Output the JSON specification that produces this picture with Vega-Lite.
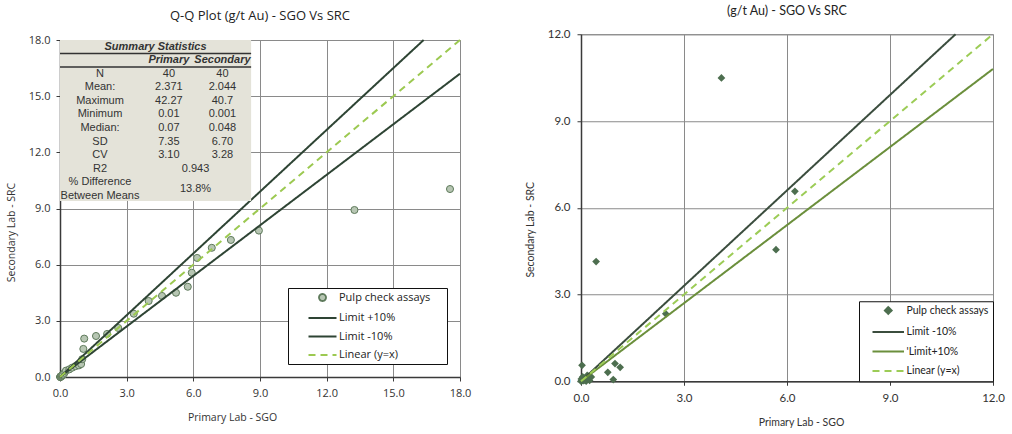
{
  "$schema": "https://vega.github.io/schema/vega-lite/v6.json",
  "background": "white",
  "padding": {"left": 5, "top": 4, "right": 5, "bottom": 5},
  "datasets": {
    "qq": [
      {"primary": 0.01, "secondary": 0.001}, {"primary": 0.01, "secondary": 0.005},
      {"primary": 0.02, "secondary": 0.01}, {"primary": 0.02, "secondary": 0.012},
      {"primary": 0.03, "secondary": 0.02}, {"primary": 0.03, "secondary": 0.022},
      {"primary": 0.04, "secondary": 0.025}, {"primary": 0.04, "secondary": 0.03},
      {"primary": 0.05, "secondary": 0.03}, {"primary": 0.05, "secondary": 0.04},
      {"primary": 0.06, "secondary": 0.04}, {"primary": 0.06, "secondary": 0.045},
      {"primary": 0.07, "secondary": 0.048}, {"primary": 0.08, "secondary": 0.06},
      {"primary": 0.1, "secondary": 0.09}, {"primary": 0.14, "secondary": 0.13},
      {"primary": 0.2, "secondary": 0.22}, {"primary": 0.27, "secondary": 0.34},
      {"primary": 0.42, "secondary": 0.41}, {"primary": 0.55, "secondary": 0.5},
      {"primary": 0.7, "secondary": 0.58}, {"primary": 0.85, "secondary": 0.62},
      {"primary": 0.95, "secondary": 0.69}, {"primary": 1.0, "secondary": 0.95},
      {"primary": 1.05, "secondary": 1.5}, {"primary": 1.09, "secondary": 2.05},
      {"primary": 1.62, "secondary": 2.19}, {"primary": 2.12, "secondary": 2.3},
      {"primary": 2.62, "secondary": 2.62}, {"primary": 3.32, "secondary": 3.38},
      {"primary": 3.99, "secondary": 4.06}, {"primary": 4.59, "secondary": 4.33},
      {"primary": 5.22, "secondary": 4.5}, {"primary": 5.75, "secondary": 4.82},
      {"primary": 5.93, "secondary": 5.57}, {"primary": 6.17, "secondary": 6.36},
      {"primary": 6.83, "secondary": 6.9}, {"primary": 7.69, "secondary": 7.32},
      {"primary": 8.95, "secondary": 7.82}, {"primary": 13.25, "secondary": 8.92},
      {"primary": 17.55, "secondary": 10.04}
    ],
    "qqLines": [
      {"series": "Limit +10%", "x": 0, "y": 0}, {"series": "Limit +10%", "x": 16.3636, "y": 18},
      {"series": "Limit -10%", "x": 0, "y": 0}, {"series": "Limit -10%", "x": 18, "y": 16.2},
      {"series": "Linear (y=x)", "x": 0, "y": 0}, {"series": "Linear (y=x)", "x": 18, "y": 18}
    ],
    "stats": [
      {"row": 2, "label": "N", "primary": "40", "secondary": "40"},
      {"row": 3, "label": "Mean:", "primary": "2.371", "secondary": "2.044"},
      {"row": 4, "label": "Maximum", "primary": "42.27", "secondary": "40.7"},
      {"row": 5, "label": "Minimum", "primary": "0.01", "secondary": "0.001"},
      {"row": 6, "label": "Median:", "primary": "0.07", "secondary": "0.048"},
      {"row": 7, "label": "SD", "primary": "7.35", "secondary": "6.70"},
      {"row": 8, "label": "CV", "primary": "3.10", "secondary": "3.28"},
      {"row": 9, "label": "R2", "merged": "0.943"},
      {"row": 10, "label": "% Difference"},
      {"row": 11, "label": "Between Means"},
      {"row": 10.5, "merged": "13.8%"}
    ],
    "pairs": [
      {"primary": 4.09, "secondary": 10.49}, {"primary": 0.44, "secondary": 4.14},
      {"primary": 2.47, "secondary": 2.33}, {"primary": 6.23, "secondary": 6.57},
      {"primary": 5.68, "secondary": 4.55}, {"primary": 0.03, "secondary": 0.55},
      {"primary": 0.78, "secondary": 0.31}, {"primary": 0.99, "secondary": 0.61},
      {"primary": 1.14, "secondary": 0.48}, {"primary": 0.94, "secondary": 0.06},
      {"primary": 0.0, "secondary": 0.0}, {"primary": 0.02, "secondary": 0.01},
      {"primary": 0.05, "secondary": 0.03}, {"primary": 0.08, "secondary": 0.02},
      {"primary": 0.1, "secondary": 0.1}, {"primary": 0.12, "secondary": 0.05},
      {"primary": 0.15, "secondary": 0.0}, {"primary": 0.2, "secondary": 0.08},
      {"primary": 0.25, "secondary": 0.03}, {"primary": 0.3, "secondary": 0.15},
      {"primary": 0.05, "secondary": 0.15}, {"primary": 0.18, "secondary": 0.2},
      {"primary": 0.01, "secondary": 0.08}, {"primary": 0.22, "secondary": 0.12},
      {"primary": 0.21, "secondary": 0.17}
    ],
    "pairLines": [
      {"series": "Limit -10%", "x": 0, "y": 0}, {"series": "Limit -10%", "x": 10.909, "y": 12},
      {"series": "'Limit+10%", "x": 0, "y": 0}, {"series": "'Limit+10%", "x": 12, "y": 10.8},
      {"series": "Linear (y=x)", "x": 0, "y": 0}, {"series": "Linear (y=x)", "x": 12, "y": 12}
    ]
  },
  "concat": [
    {
      "width": 400,
      "height": 337,
      "title": {"text": "Q-Q Plot (g/t Au) - SGO Vs SRC", "font": "Open Sans", "fontSize": 13, "fontWeight": "normal", "color": "#222", "offset": 11},
      "layer": [
        {
          "layer": [
            {
              "data": {"name": "qq"},
              "mark": {"type": "point", "filled": true, "fill": "#b7c6b3", "size": 50, "strokeWidth": 1, "opacity": 1},
              "encoding": {
                "x": {"field": "primary", "type": "quantitative", "scale": {"domain": [0, 18], "nice": false, "zero": false}},
                "y": {"field": "secondary", "type": "quantitative", "scale": {"domain": [0, 18], "nice": false, "zero": false}},
                "stroke": {"datum": "Pulp check assays", "type": "nominal"},
                "shape": {"datum": "Pulp check assays", "type": "nominal",
                  "scale": {"domain": ["Pulp check assays", "Limit +10%", "Limit -10%", "Linear (y=x)"], "range": ["circle", "M-4,0H4", "M-4,0H4", "M-4,0H4"]},
                  "legend": {"title": "\u00a0", "titleOrient": "right", "titlePadding": 13}}
              }
            },
            {
              "data": {"name": "qqLines"},
              "mark": {"type": "line", "strokeWidth": 2},
              "encoding": {
                "x": {"field": "x", "type": "quantitative",
                  "scale": {"domain": [0, 18], "nice": false, "zero": false},
                  "axis": {"values": [0, 3, 6, 9, 12, 15, 18], "format": ".1f", "title": "Primary Lab - SGO",
                    "labelFont": "Open Sans", "labelFontSize": 11, "labelPadding": 6,
                    "titleFont": "Open Sans", "titleFontSize": 10.5, "titlePadding": 14, "titleX": 172}},
                "y": {"field": "y", "type": "quantitative",
                  "scale": {"domain": [0, 18], "nice": false, "zero": false},
                  "axis": {"values": [0, 3, 6, 9, 12, 15, 18], "format": ".1f", "title": "Secondary Lab - SRC",
                    "labelFont": "Open Sans", "labelFontSize": 11, "labelPadding": 6,
                    "titleFont": "Open Sans", "titleFontSize": 10.5, "titlePadding": 12, "titleY": 192}},
                "stroke": {"field": "series", "type": "nominal",
                  "scale": {"domain": ["Pulp check assays", "Limit +10%", "Limit -10%", "Linear (y=x)"], "range": ["#5e7a5b", "#2e4434", "#2e4434", "#9cc951"]},
                  "legend": {"title": "\u00a0", "titleOrient": "right", "titlePadding": 13}},
                "strokeDash": {"field": "series", "type": "nominal",
                  "scale": {"domain": ["Pulp check assays", "Limit +10%", "Limit -10%", "Linear (y=x)"], "range": [[1, 0], [1, 0], [1, 0], [7, 5]]},
                  "legend": {"title": "\u00a0", "titleOrient": "right", "titlePadding": 13}}
              }
            }
          ]
        },
        {
          "layer": [
            {
              "data": {"values": [{}]},
              "mark": {"type": "rect", "fill": "#e4e3d9"},
              "encoding": {
                "x": {"datum": 0, "type": "quantitative"},
                "x2": {"datum": 8.6},
                "y": {"datum": -0.5, "type": "quantitative",
                  "scale": {"domain": [-0.5, 24.4], "reverse": true, "nice": false, "zero": false}, "axis": null},
                "y2": {"datum": 11.4}
              }
            },
            {
              "data": {"values": [{"row": 0.5}, {"row": 1.5}]},
              "mark": {"type": "rule", "stroke": "#333", "strokeWidth": 1.5},
              "encoding": {
                "x": {"datum": 0, "type": "quantitative"},
                "x2": {"datum": 8.6},
                "y": {"field": "row", "type": "quantitative"}
              }
            },
            {
              "data": {"values": [{"row": 0, "text": "Summary Statistics"}]},
              "mark": {"type": "text", "font": "Liberation Sans", "fontSize": 11, "fontWeight": "bold", "fontStyle": "italic", "color": "#333"},
              "encoding": {
                "x": {"datum": 4.3, "type": "quantitative"},
                "y": {"field": "row", "type": "quantitative"},
                "text": {"field": "text"}
              }
            },
            {
              "data": {"values": [{"row": 1, "text": "Primary", "col": 4.9}, {"row": 1, "text": "Secondary", "col": 7.31}]},
              "mark": {"type": "text", "font": "Liberation Sans", "fontSize": 11, "fontWeight": "bold", "fontStyle": "italic", "color": "#333"},
              "encoding": {
                "x": {"field": "col", "type": "quantitative"},
                "y": {"field": "row", "type": "quantitative"},
                "text": {"field": "text"}
              }
            },
            {
              "data": {"name": "stats"},
              "transform": [{"filter": "isValid(datum.label)"}],
              "mark": {"type": "text", "font": "Liberation Sans", "fontSize": 11, "color": "#333"},
              "encoding": {
                "x": {"datum": 1.8, "type": "quantitative"},
                "y": {"field": "row", "type": "quantitative"},
                "text": {"field": "label"}
              }
            },
            {
              "data": {"name": "stats"},
              "transform": [{"filter": "isValid(datum.primary)"}],
              "mark": {"type": "text", "font": "Liberation Sans", "fontSize": 11, "color": "#333"},
              "encoding": {
                "x": {"datum": 4.9, "type": "quantitative"},
                "y": {"field": "row", "type": "quantitative"},
                "text": {"field": "primary"}
              }
            },
            {
              "data": {"name": "stats"},
              "transform": [{"filter": "isValid(datum.secondary)"}],
              "mark": {"type": "text", "font": "Liberation Sans", "fontSize": 11, "color": "#333"},
              "encoding": {
                "x": {"datum": 7.31, "type": "quantitative"},
                "y": {"field": "row", "type": "quantitative"},
                "text": {"field": "secondary"}
              }
            },
            {
              "data": {"name": "stats"},
              "transform": [{"filter": "isValid(datum.merged)"}],
              "mark": {"type": "text", "font": "Liberation Sans", "fontSize": 11, "color": "#333"},
              "encoding": {
                "x": {"datum": 6.1, "type": "quantitative"},
                "y": {"field": "row", "type": "quantitative"},
                "text": {"field": "merged"}
              }
            }
          ]
        }
      ],
      "resolve": {"scale": {"y": "independent"}}
    },
    {
      "width": 412,
      "height": 347,
      "title": {"text": "(g/t Au) - SGO Vs SRC", "font": "Lato", "fontSize": 12.5, "fontWeight": "normal", "color": "#222", "offset": 11},
      "layer": [
        {
          "data": {"name": "pairs"},
          "mark": {"type": "point", "filled": true, "fill": "#4d6e4f", "size": 60, "strokeWidth": 0, "opacity": 1},
          "encoding": {
            "x": {"field": "primary", "type": "quantitative", "scale": {"domain": [0, 12], "nice": false, "zero": false}},
            "y": {"field": "secondary", "type": "quantitative", "scale": {"domain": [0, 12], "nice": false, "zero": false}},
            "stroke": {"datum": "Pulp check assays", "type": "nominal"},
            "shape": {"datum": "Pulp check assays", "type": "nominal",
              "scale": {"domain": ["Pulp check assays", "Limit -10%", "'Limit+10%", "Linear (y=x)"], "range": ["diamond", "M-4.5,0H4.5", "M-4.5,0H4.5", "M-4.5,0H4.5"]},
              "legend": {"title": null, "offset": 0, "labelFont": "Lato", "labelFontSize": 10.5, "symbolOffset": 20, "labelOffset": 13, "rowPadding": 8.5}}
          }
        },
        {
          "data": {"name": "pairLines"},
          "mark": {"type": "line", "strokeWidth": 2},
          "encoding": {
            "x": {"field": "x", "type": "quantitative",
              "scale": {"domain": [0, 12], "nice": false, "zero": false},
              "axis": {"values": [0, 3, 6, 9, 12], "format": ".1f", "title": "Primary Lab - SGO",
                "labelFont": "Lato", "labelFontSize": 11.5, "labelPadding": 7,
                "titleFont": "Lato", "titleFontSize": 10.5, "titlePadding": 14, "titleX": 220}},
            "y": {"field": "y", "type": "quantitative",
              "scale": {"domain": [0, 12], "nice": false, "zero": false},
              "axis": {"values": [0, 3, 6, 9, 12], "format": ".1f", "title": "Secondary Lab - SRC",
                "labelFont": "Lato", "labelFontSize": 11.5, "labelPadding": 7,
                "titleFont": "Lato", "titleFontSize": 10.5, "titlePadding": 12, "titleY": 195}},
            "stroke": {"field": "series", "type": "nominal",
              "scale": {"domain": ["Pulp check assays", "Limit -10%", "'Limit+10%", "Linear (y=x)"], "range": ["#4d6e4f", "#3b4d3e", "#6b8f3c", "#9ccc56"]},
              "legend": {"title": null, "offset": 0, "labelFont": "Lato", "labelFontSize": 10.5, "symbolOffset": 20, "labelOffset": 13, "rowPadding": 8.5}},
            "strokeDash": {"field": "series", "type": "nominal",
              "scale": {"domain": ["Pulp check assays", "Limit -10%", "'Limit+10%", "Linear (y=x)"], "range": [[1, 0], [1, 0], [1, 0], [7, 5]]},
              "legend": {"title": null, "offset": 0, "labelFont": "Lato", "labelFontSize": 10.5, "symbolOffset": 20, "labelOffset": 13, "rowPadding": 8.5}}
          }
        }
      ]
    }
  ],
  "columns": 2,
  "center": true,
  "spacing": 52,
  "resolve": {
    "scale": {"stroke": "independent", "shape": "independent", "strokeDash": "independent"},
    "legend": {"stroke": "independent", "shape": "independent", "strokeDash": "independent"}
  },
  "config": {
    "view": {"stroke": "#8a8a8a"},
    "axis": {"grid": true, "gridColor": "#8a8a8a", "gridWidth": 1, "domainColor": "#3a3a3a", "domainWidth": 1.5,
      "tickColor": "#3a3a3a", "tickSize": 4, "labelColor": "#333", "titleColor": "#333", "titleFontWeight": "normal",
      "labelFlush": false},
    "legend": {"orient": "bottom-right", "offset": 13, "strokeColor": "#111", "fillColor": "white", "padding": 4,
      "symbolOffset": 25, "labelOffset": 11, "rowPadding": 6.5, "symbolSize": 49, "symbolStrokeWidth": 1.8,
      "labelFont": "Open Sans", "labelFontSize": 11, "labelColor": "#222"}
  }
}
